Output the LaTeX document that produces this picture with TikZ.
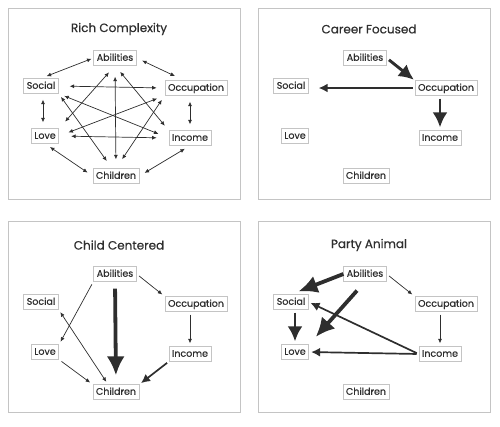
\documentclass[tikz,border=0pt]{standalone}
\usepackage{fontspec}
\setmainfont{Poppins}[UprightFeatures={FakeBold=0.5}]
\usetikzlibrary{arrows.meta}

\definecolor{ink}{HTML}{2E2E2E}
\definecolor{rim}{HTML}{C4C4C4}

\begin{document}
\begin{tikzpicture}[
                    x=1pt, y=-1pt,
                    ink,
                    box/.style={draw=rim, line width=0.8pt, fill=white, text=ink,
                                font=\fontsize{9.5}{11}\selectfont,
                                inner xsep=3pt, inner ysep=2.5pt,
                                text height=7.5pt, text depth=2pt},
                    title/.style={text=ink, font=\fontsize{12}{14}\selectfont},
                    panel/.style={draw=rim, line width=0.9pt},
                    faint/.style={line width=0.7pt, shorten <=3pt, shorten >=3pt,
                                  >={Latex[length=4.5pt,width=4pt]}},
                    web/.style={faint, shorten <=6pt, shorten >=6pt},
                    firm/.style={line width=1.7pt, shorten <=2pt, shorten >=2pt,
                                 >={Latex[length=9pt,width=9pt]}},
                    heavy/.style={line width=2.9pt, shorten <=3pt, shorten >=3pt,
                                  >={Latex[length=15pt,width=15pt]}},
                    massive/.style={line width=3.8pt,
                                    >={Latex[length=19pt,width=18pt]}}
                ]
                \useasboundingbox (0,0) rectangle (500,426);

                % four panels, same six boxes in each
                \foreach \p/\x/\y/\d/\t in {1/0/0/0/Rich Complexity,
                                            2/250/0/0/Career Focused,
                                            3/0/213/3/Child Centered,
                                            4/250/213/3/Party Animal}{
                    \begin{scope}[shift={(\x,\y)}]
                        \draw[panel] (8,8) rectangle (240,199);
                        \begin{scope}[shift={(0,\d)}]
                            \node[title] (title\p) at (119,29) {\t};
                            \node[box]   (abil\p)  at (115,58) {Abilities};
                            \node[box]   (soc\p)   at (41,86)  {Social};
                            \node[box]   (occ\p)   at (196,88) {Occupation};
                            \node[box]   (love\p)  at (45,136) {Love};
                            \node[box]   (inc\p)   at (190,138) {Income};
                            \node[box]   (chil\p)  at (116,176) {Children};
                        \end{scope}
                    \end{scope}
                }

                % Rich Complexity
                \path[web,<->]
                (abil1.west)              edge [shorten <=2pt] (soc1.north)
                (abil1.east)              edge [shorten >=10pt] ([xshift=-12pt]occ1.north)
                ([xshift=2pt]soc1.south)  edge ([xshift=-2pt]love1.north)
                (inc1.north |- occ1.south) edge (inc1.north)
                (love1.south)             edge (chil1.west)
                (chil1.east)              edge (inc1.south)
                (soc1.east)               edge [shorten <=11pt, shorten >=8pt] (occ1.west)
                (love1.east)              edge [shorten <=12pt, shorten >=12pt] (inc1.west)
                (soc1.south east)         edge [shorten >=11pt] (inc1.west)
                (love1.east)              edge [shorten <=10pt, shorten >=8pt] (occ1.south west)
                (abil1.south)             edge [shorten <=9pt, shorten >=9pt] (love1.north east)
                (abil1.south)             edge [shorten <=11pt, shorten >=9pt] (chil1.north)
                (abil1.south)             edge [shorten <=8pt] (inc1.north west)
                (soc1.south east)         edge [shorten <=4pt, shorten >=9pt] ([xshift=-4pt]chil1.north)
                (occ1.south west)         edge [shorten <=5pt, shorten >=11pt] (chil1.north)
                ;

                % Career Focused
                \path[heavy,->]
                (abil2.east)               edge [shorten >=1pt] (occ2.north west)
                (inc2.north |- occ2.south) edge (inc2.north)
                ;
                \path[firm,->]
                (occ2.west) edge [shorten >=10pt] (occ2.west -| soc2.east)
                ;

                % Child Centered
                \path[faint,->]
                (abil3.east)               edge (occ3.north west)
                (abil3.south west)         edge (love3.north east)
                (inc3.north |- occ3.south) edge (inc3.north)
                (love3.south east)         edge (chil3.north west)
                ;
                \path[faint,<->]
                (soc3.south east) edge ([xshift=-8pt]chil3.north)
                ;
                \path[massive,->]
                (abil3.south) edge [shorten <=7pt, shorten >=9pt] (chil3.north)
                ;
                \path[firm,->]
                (inc3.south west) edge (chil3.north east)
                ;

                % Party Animal
                \path[massive,->]
                (abil4.west)  edge [shorten >=8pt] (soc4.north)
                (abil4.south) edge [shorten <=12pt, shorten >=10pt] (love4.north east)
                ;
                \path[heavy,->]
                (love4.north |- soc4.south) edge (love4.north)
                ;
                \path[faint,->]
                (abil4.east)               edge (occ4.north west)
                (inc4.north |- occ4.south) edge (inc4.north)
                ;
                \path[firm,->]
                (inc4.west) edge (soc4.east)
                (inc4.west) edge (love4.east)
                ;
            \end{tikzpicture}
\end{document}
